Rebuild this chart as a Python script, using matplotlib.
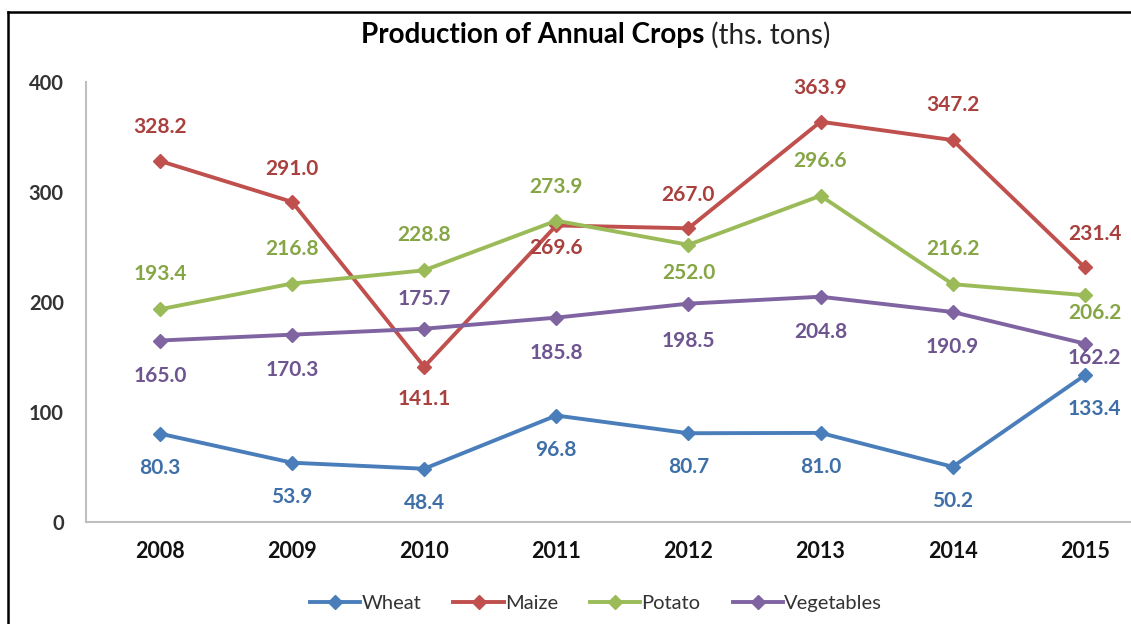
"""
Production of Annual Crops (ths. tons)
Line chart, 2008-2015
"""

import matplotlib
matplotlib.use("Agg")
import matplotlib.pyplot as plt
from matplotlib.lines import Line2D

plt.rcParams["font.family"] = ["Lato", "DejaVu Sans"]

# Data
years = ["2008", "2009", "2010", "2011", "2012", "2013", "2014", "2015"]
wheat = [80.3, 53.9, 48.4, 96.8, 80.7, 81.0, 50.2, 133.4]
maize = [328.2, 291.0, 141.1, 269.6, 267.0, 363.9, 347.2, 231.4]
potato = [193.4, 216.8, 228.8, 273.9, 252.0, 296.6, 216.2, 206.2]
vegetables = [165.0, 170.3, 175.7, 185.8, 198.5, 204.8, 190.9, 162.2]

# Style: line colour, label colour, label offsets in pixels (+ above, - below)
series = [
    ("Wheat", wheat, "#4A7EBB", "#3F6FA8", [-34, -34, -34, -34, -34, -34, -34, -34]),
    ("Maize", maize, "#C0504D", "#A9403E", [34, 33, -32, -23, 33, 34, 35, 33]),
    ("Potato", potato, "#9BBB59", "#86A646", [35, 35, 35, 34, -28, 35, 35, -18]),
    ("Vegetables", vegetables, "#8064A2", "#6E5590", [-35, -35, 30, -35, -37, -35, -35, -14]),
]

W, H = 1131, 624
fig = plt.figure(figsize=(W / 100, H / 100), dpi=100)
ax = fig.add_axes([86 / W, 1 - 522 / H, (W - 86) / W, 440 / H])

x = list(range(len(years)))
for name, vals, col, tcol, offs in series:
    ax.plot(x, vals, color=col, lw=2.8, marker="D", ms=7.5, label=name)
    for i, v in enumerate(vals):
        dx = 10 if i == len(vals) - 1 else 0
        ax.annotate(f"{v:.1f}", (i, v), xytext=(dx, offs[i]),
                    textcoords="offset pixels", ha="center", va="center",
                    fontsize=15, fontweight="bold", color=tcol)

ax.set_xlim(-0.56, 7.35)
ax.set_ylim(0, 400)
ax.set_yticks([0, 100, 200, 300, 400])
ax.set_xticks(x)
ax.set_xticklabels(years)
ax.tick_params(axis="both", length=0)
ax.tick_params(axis="y", pad=16, labelsize=14.5, labelcolor="#333333")
ax.tick_params(axis="x", pad=14, labelsize=15.5, labelcolor="#111111")
for lab in ax.get_xticklabels() + ax.get_yticklabels():
    lab.set_fontweight("bold")
for s in ["top", "right"]:
    ax.spines[s].set_visible(False)
for s in ["left", "bottom"]:
    ax.spines[s].set_color("#BFBFBF")
    ax.spines[s].set_linewidth(1.5)

# Title: bold part + normal part, centred as one line
t1 = fig.text(0, 1 - 35 / H, "Production of Annual Crops", fontsize=20,
              fontweight="bold", va="center", ha="left")
t2 = fig.text(0, 1 - 35 / H, " (ths. tons)", fontsize=20, va="center", ha="left",
              color="#222222")
fig.canvas.draw()
r = fig.canvas.get_renderer()
w1 = t1.get_window_extent(r).width
w2 = t2.get_window_extent(r).width
x0 = 596 - (w1 + w2) / 2
t1.set_x(x0 / W)
t2.set_x((x0 + w1) / W)

leg = fig.legend(loc="center", bbox_to_anchor=(596 / W, 1 - 603 / H), ncol=4,
                 frameon=False, fontsize=14.5, handlelength=2.5, columnspacing=1.6,
                 handletextpad=0.05)
for t in leg.get_texts():
    t.set_color("#333333")

# Border (left and top edge of the frame)
fig.add_artist(Line2D([8 / W, 8 / W], [0, 1 - 12 / H], transform=fig.transFigure,
                      color="black", lw=1.8))
fig.add_artist(Line2D([8 / W, 1], [1 - 12 / H, 1 - 12 / H], transform=fig.transFigure,
                      color="black", lw=1.8))

fig.savefig("out.png", dpi=100)
